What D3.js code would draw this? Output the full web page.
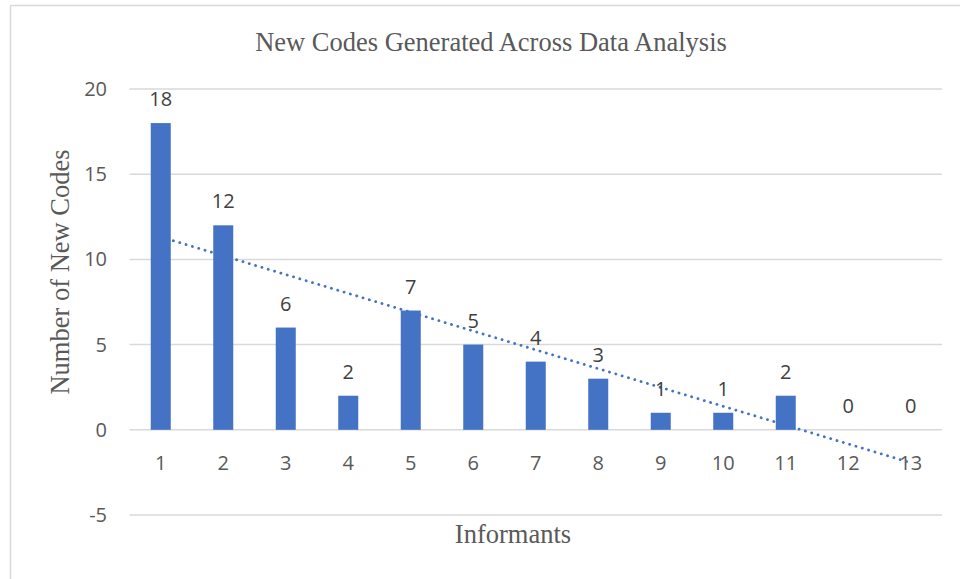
<!DOCTYPE html>
<html>
<head>
<meta charset="utf-8">
<script src="https://cdn.jsdelivr.net/npm/d3@7"></script>
<style>
  body { margin: 0; background: #fff; }
</style>
</head>
<body>
<script>
// chart data
const informants = ['1','2','3','4','5','6','7','8','9','10','11','12','13'];
const newCodes = [18, 12, 6, 2, 7, 5, 4, 3, 1, 1, 2, 0, 0];
const yTicks = [-5, 0, 5, 10, 15, 20];

const width = 960, height = 579;
const svg = d3.select('body').append('svg')
    .attr('width', width)
    .attr('height', height);

// outer frame
svg.append('rect')
    .attr('x', 10.5).attr('y', 5.5)
    .attr('width', 960).attr('height', 600)
    .attr('fill', 'none')
    .attr('stroke', '#d9d9d9')
    .attr('stroke-width', 1.5);

const x = d3.scaleBand().domain(informants).range([129.5, 942]);
const y = d3.scaleLinear().domain([-5, 20]).range([515, 89]);

// gridlines
svg.append('g').selectAll('line')
    .data(yTicks)
    .enter().append('line')
    .attr('x1', 129.5).attr('x2', 942)
    .attr('y1', d => y(d)).attr('y2', d => y(d))
    .attr('stroke', '#d9d9d9')
    .attr('stroke-width', 1.5);

// y tick labels
svg.append('g').selectAll('text')
    .data(yTicks)
    .enter().append('text')
    .attr('x', 107)
    .attr('y', d => y(d) + 7)
    .attr('text-anchor', 'end')
    .style('font-family', '"Open Sans", sans-serif')
    .style('font-size', '20px')
    .style('fill', '#595959')
    .text(d => d);

// x tick labels
svg.append('g').selectAll('text')
    .data(informants)
    .enter().append('text')
    .attr('x', d => x(d) + x.bandwidth() / 2)
    .attr('y', y(0) + 40)
    .attr('text-anchor', 'middle')
    .style('font-family', '"Open Sans", sans-serif')
    .style('font-size', '20px')
    .style('fill', '#595959')
    .text(d => d);

// linear trendline (least squares over category index)
const n = newCodes.length;
const xs = newCodes.map((d, i) => i + 1);
const mx = d3.mean(xs), my = d3.mean(newCodes);
const slope = d3.sum(xs, (v, i) => (v - mx) * (newCodes[i] - my)) / d3.sum(xs, v => (v - mx) ** 2);
const icpt = my - slope * mx;
const cx = i => x(informants[i]) + x.bandwidth() / 2;

svg.append('line')
    .attr('x1', cx(0)).attr('y1', y(icpt + slope * 1))
    .attr('x2', cx(n - 1)).attr('y2', y(icpt + slope * n))
    .attr('stroke', '#4472C4')
    .attr('stroke-width', 2.8)
    .attr('stroke-linecap', 'round')
    .attr('stroke-dasharray', '0.1 6.5');

// bars
const barW = 20;
svg.append('g').selectAll('rect')
    .data(newCodes)
    .enter().append('rect')
    .attr('x', (d, i) => cx(i) - barW / 2)
    .attr('y', d => y(d))
    .attr('width', barW)
    .attr('height', d => y(0) - y(d))
    .style('fill', '#4472C4');

// value labels
svg.append('g').selectAll('text')
    .data(newCodes)
    .enter().append('text')
    .attr('x', (d, i) => cx(i))
    .attr('y', d => y(d) - 17)
    .attr('text-anchor', 'middle')
    .style('font-family', '"Open Sans", sans-serif')
    .style('font-size', '20px')
    .style('fill', '#404040')
    .text(d => d);

// titles
svg.append('text')
    .attr('x', 491).attr('y', 51)
    .attr('text-anchor', 'middle')
    .style('font-family', '"Liberation Serif", "Times New Roman", serif')
    .style('font-size', '26.5px')
    .style('fill', '#595959')
    .text('New Codes Generated Across Data Analysis');

svg.append('text')
    .attr('x', 513).attr('y', 543)
    .attr('text-anchor', 'middle')
    .style('font-family', '"Liberation Serif", "Times New Roman", serif')
    .style('font-size', '26.5px')
    .style('fill', '#595959')
    .text('Informants');

svg.append('text')
    .attr('transform', 'translate(69,272) rotate(-90)')
    .attr('text-anchor', 'middle')
    .style('font-family', '"Liberation Serif", "Times New Roman", serif')
    .style('font-size', '26.5px')
    .style('fill', '#595959')
    .text('Number of New Codes');
</script>
</body>
</html>
